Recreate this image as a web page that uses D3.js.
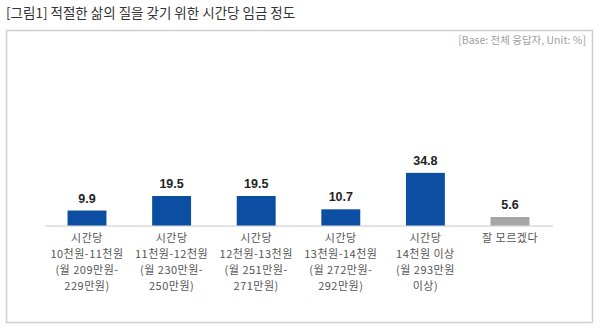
<!DOCTYPE html>
<html><head><meta charset="utf-8">
<script src="https://cdn.jsdelivr.net/npm/d3@7"></script>
<style>body{margin:0;background:#fff;} svg{display:block;}</style>
</head><body>
<svg id="c" width="600" height="331"></svg>
<script>
const categories = [
  ["시간당","10천원-11천원","(월 209만원-","229만원)"],
  ["시간당","11천원-12천원","(월 230만원-","250만원)"],
  ["시간당","12천원-13천원","(월 251만원-","271만원)"],
  ["시간당","13천원-14천원","(월 272만원-","292만원)"],
  ["시간당","14천원 이상","(월 293만원","이상)"],
  ["잘 모르겠다"]
];
const values = [9.9, 19.5, 19.5, 10.7, 34.8, 5.6];
const barColors = ["#0b4ea2","#0b4ea2","#0b4ea2","#0b4ea2","#0b4ea2","#a5a5a5"];
const titleText = "[그림1] 적절한 삶의 질을 갖기 위한 시간당 임금 정도";
const baseText = "[Base: 전체 응답자, Unit: %]";

const svg = d3.select("#c");
const font = "'Noto Sans CJK KR', 'Noto Sans', sans-serif";

svg.append("text").attr("x", 6).attr("y", 18).attr("font-family", font)
  .attr("font-size", 13.5).attr("fill", "#333").text(titleText);

svg.append("rect").attr("x", 6.5).attr("y", 30.5).attr("width", 586).attr("height", 292)
  .attr("fill", "none").attr("stroke", "#cfcfcf").attr("stroke-width", 1.5);

svg.append("text").attr("x", 586).attr("y", 44).attr("text-anchor", "end").attr("font-family", font)
  .attr("font-size", 10.5).attr("fill", "#a0a0a0").text(baseText);

const idx = d3.range(values.length);
const x = d3.scaleBand().domain(idx).range([44.7, 552.3]).paddingInner(0.54).paddingOuter(0.27);
const y = d3.scaleLinear().domain([0, 40]).range([225.5, 165]);

svg.append("line").attr("x1", 45).attr("x2", 553).attr("y1", 226).attr("y2", 226)
  .attr("stroke", "#c8c8c8").attr("stroke-width", 1);

svg.selectAll("rect.bar").data(idx).enter().append("rect").attr("class", "bar")
  .attr("x", i => x(i)).attr("width", x.bandwidth())
  .attr("y", i => y(values[i])).attr("height", i => y(0) - y(values[i]))
  .attr("fill", i => barColors[i]);

svg.selectAll("text.val").data(idx).enter().append("text").attr("class", "val")
  .attr("x", i => x(i) + x.bandwidth() / 2).attr("y", i => y(values[i]) - 8)
  .attr("text-anchor", "middle").attr("font-family", "'Liberation Sans', Arial, sans-serif")
  .attr("font-weight", "bold").attr("font-size", 12.5).attr("fill", "#222")
  .text(i => values[i].toFixed(1));

const lab = svg.selectAll("text.cat").data(idx).enter().append("text").attr("class", "cat")
  .attr("text-anchor", "middle").attr("font-family", font).attr("font-size", 11)
  .attr("letter-spacing", 0.5).attr("fill", "#555");
lab.each(function(i) {
  const t = d3.select(this);
  categories[i].forEach((s, k) => {
    t.append("tspan").attr("x", x(i) + x.bandwidth() / 2).attr("y", 242 + k * 16).text(s);
  });
});
</script>
</body></html>
